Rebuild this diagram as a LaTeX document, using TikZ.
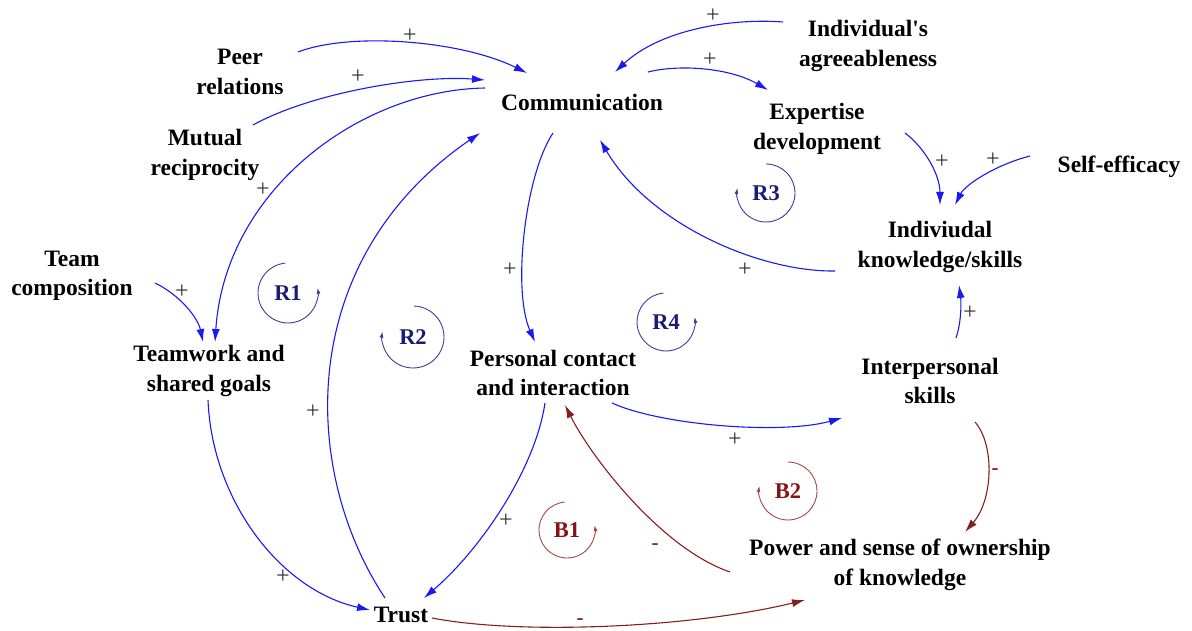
\documentclass[tikz,border=0pt]{standalone}
\usepackage{fontspec}
\setmainfont{Liberation Serif}[Ligatures=TeXOff]
\usetikzlibrary{arrows.meta}
\definecolor{linkblue}{RGB}{25,25,245}
\definecolor{linkred}{RGB}{135,30,30}
\definecolor{loopnavy}{RGB}{28,28,120}
\definecolor{loopnavyline}{RGB}{60,60,160}
\definecolor{loopred}{RGB}{135,20,20}
\definecolor{loopredline}{RGB}{170,70,70}
\definecolor{signgray}{RGB}{50,50,50}
\begin{document}
\begin{tikzpicture}[x=1pt,y=-1pt,
  var/.style={font=\fontsize{23.5}{29.5}\selectfont\bfseries, align=center, inner sep=0pt},
  poslink/.style={draw=linkblue, line width=1.1pt, -{Latex[length=13pt,width=8pt]}},
  neglink/.style={draw=linkred, line width=1.1pt, -{Latex[length=13pt,width=8pt]}},
  plussign/.style={font=\fontsize{24}{24}\selectfont, text=signgray, inner sep=0pt},
  minussign/.style={font=\fontsize{21}{21}\selectfont\bfseries, text=linkred, inner sep=0pt},
  loopRtext/.style={font=\fontsize{22.5}{22.5}\selectfont\bfseries, text=loopnavy, inner sep=0pt},
  loopBtext/.style={font=\fontsize{22.5}{22.5}\selectfont\bfseries, text=loopred, inner sep=0pt},
  loopRline/.style={draw=loopnavyline, line width=0.9pt, -{Latex[length=6pt,width=4pt]}},
  loopBline/.style={draw=loopredline, line width=0.9pt, -{Latex[length=6pt,width=4pt]}},
]
\useasboundingbox (0,0) rectangle (1192,631);

% variables
\node[var] (peer)     at (240,72)  {Peer\\relations};
\node[var] (mutual)   at (205,155) {Mutual\\reciprocity};
\node[var] (comm)     at (582,102) {Communication};
\node[var] (agree)    at (868,46)  {Individual's\\agreeableness};
\node[var] (expert)   at (817,129) {Expertise\\development};
\node[var] (self)     at (1119,167){Self-efficacy};
\node[var] (know)     at (940,247) {Indiviudal\\knowledge/skills};
\node[var] (team)     at (72,276)  {Team\\composition};
\node[var] (teamwork) at (209,371) {Teamwork and\\shared goals};
\node[var] (personal) at (553,373) {Personal contact\\and interaction};
\node[var] (inter)    at (930,381) {Interpersonal\\skills};
\node[var] (power)    at (900,565) {Power and sense of ownership\\of knowledge};
\node[var] (trust)    at (401,615) {Trust};

% positive links
\draw[poslink] ([shift={(58,-20)}]peer.center) .. controls +(52,-20) and +(-67,-33) .. ([shift={(-55,-29)}]comm.center);
\draw[poslink] ([shift={(48,-30)}]mutual.center) .. controls +(60,-33) and +(-65,-5) .. ([shift={(-97,-22)}]comm.center);
\draw[poslink] ([shift={(-97,-14)}]comm.center) .. controls +(-125,2) and +(10,-152) .. ([shift={(6,-29)}]teamwork.center);
\draw[poslink] ([shift={(-85,-24)}]agree.center) .. controls +(-53,-4) and +(45,-42) .. ([shift={(33,-30)}]comm.center);
\draw[poslink] ([shift={(66,-30)}]comm.center) .. controls +(32,-8) and +(-38,-22) .. ([shift={(-49,-39)}]expert.center);
\draw[poslink] ([shift={(88,4)}]expert.center) .. controls +(20,15) and +(0,-30) .. ([shift={(0,-42)}]know.center);
\draw[poslink] ([shift={(-89,-11)}]self.center) .. controls +(-35,9) and +(10,-20) .. ([shift={(15,-42)}]know.center);
\draw[poslink] ([shift={(-105,24)}]know.center) .. controls +(-75,1) and +(50,85) .. ([shift={(18,38)}]comm.center);
\draw[poslink] ([shift={(-29,31)}]comm.center) .. controls +(-28,42) and +(-23,-52) .. ([shift={(-18,-31)}]personal.center);
\draw[poslink] ([shift={(83,7)}]team.center) .. controls +(25,12) and +(-5,-24) .. ([shift={(-6,-29)}]teamwork.center);
\draw[poslink] ([shift={(-1,29)}]teamwork.center) .. controls +(4,100) and +(-90,-20) .. ([shift={(-31,-5)}]trust.center);
\draw[poslink] ([shift={(-16,-17)}]trust.center) .. controls +(-85,-128) and +(-185,127) .. ([shift={(-102,31)}]comm.center);
\draw[poslink] ([shift={(-8,30)}]personal.center) .. controls +(-10,67) and +(56,-48) .. ([shift={(23,-17)}]trust.center);
\draw[poslink] ([shift={(59,30)}]personal.center) .. controls +(48,22) and +(-62,17) .. ([shift={(-88,37)}]inter.center);
\draw[poslink] ([shift={(26,-43)}]inter.center) .. controls +(6,-18) and +(2,15) .. ([shift={(19,38)}]know.center);

% negative links
\draw[neglink] ([shift={(45,41)}]inter.center) .. controls +(20,23) and +(28,-32) .. ([shift={(65,-33)}]power.center);
\draw[neglink] ([shift={(-170,7)}]power.center) .. controls +(-70,-24) and +(25,50) .. ([shift={(12,32)}]personal.center);
\draw[neglink] ([shift={(31,3)}]trust.center) .. controls +(88,17) and +(-115,28) .. ([shift={(-95,35)}]power.center);

% polarity signs
\node[plussign] (s1)  at (410,36)  {+};
\node[plussign] (s2)  at (358,77)  {+};
\node[plussign] (s3)  at (263,190) {+};
\node[plussign] (s4)  at (713,16)  {+};
\node[plussign] (s5)  at (710,60)  {+};
\node[plussign] (s6)  at (942,162) {+};
\node[plussign] (s7)  at (993,160) {+};
\node[plussign] (s8)  at (745,270) {+};
\node[plussign] (s9)  at (510,270) {+};
\node[plussign] (s10) at (182,292) {+};
\node[plussign] (s11) at (283,577) {+};
\node[plussign] (s12) at (313,412) {+};
\node[plussign] (s13) at (506,521) {+};
\node[plussign] (s14) at (735,440) {+};
\node[plussign] (s15) at (970,313) {+};
\node[minussign] (s16) at (995,472) {-};
\node[minussign] (s17) at (655,547) {-};
\node[minussign] (s18) at (580,622) {-};

% loop identifiers
\node[loopRtext] (R1) at (288,293) {R1};
\node[loopRtext] (R2) at (413,337) {R2};
\node[loopRtext] (R3) at (766,193) {R3};
\node[loopRtext] (R4) at (666,322) {R4};
\node[loopBtext] (B1) at (567,530) {B1};
\node[loopBtext] (B2) at (788,491) {B2};

\draw[loopRline] (R1.center) ++(95:30pt) arc[start angle=95, end angle=370, radius=30pt];
\draw[loopRline] (R2.center) ++(88:31pt) arc[start angle=88, end angle=-190, radius=31pt];
\draw[loopRline] (R3.center) ++(90:29pt) arc[start angle=90, end angle=-190, radius=29pt];
\draw[loopRline] (R4.center) ++(95:29pt) arc[start angle=95, end angle=370, radius=29pt];
\draw[loopBline] (B1.center) ++(95:28pt) arc[start angle=95, end angle=370, radius=28pt];
\draw[loopBline] (B2.center) ++(90:29pt) arc[start angle=90, end angle=-190, radius=29pt];
\end{tikzpicture}
\end{document}
